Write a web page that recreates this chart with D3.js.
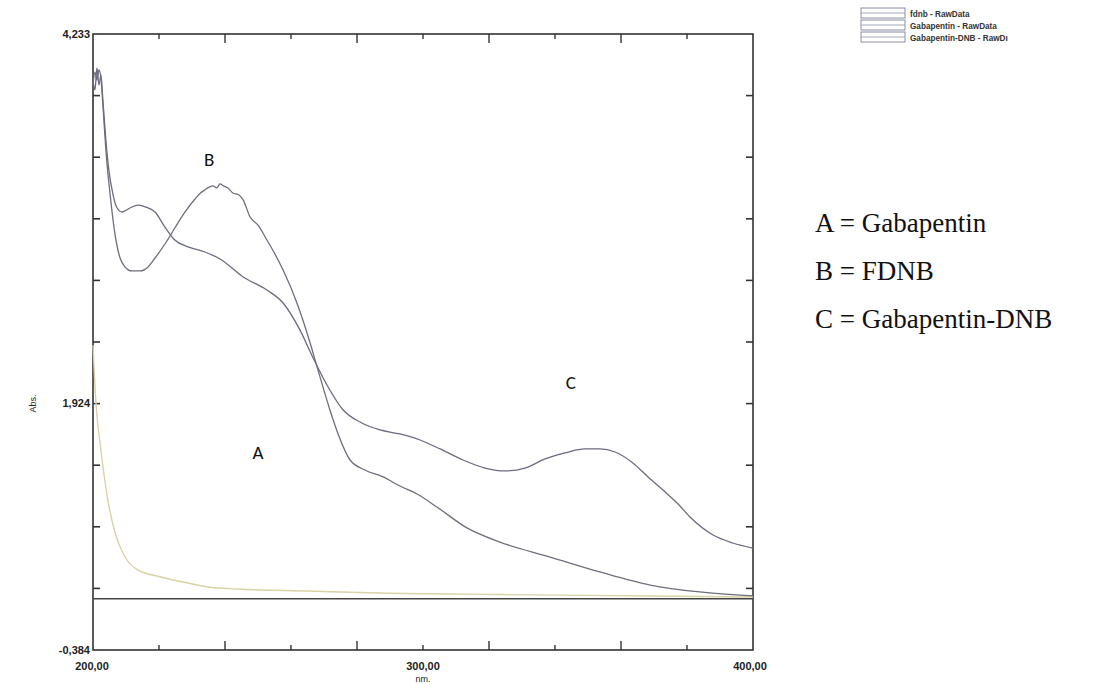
<!DOCTYPE html>
<html>
<head>
<meta charset="utf-8">
<script src="https://cdn.jsdelivr.net/npm/d3@7"></script>
<style>
  body { margin: 0; background: #fff; }
  svg { display: block; }
</style>
</head>
<body>
<div id="chart"></div>
<script>
// wavelength range (nm) and absorbance range as printed on the scan
var xDomain = [200, 400];
var yDomain = [-0.384, 4.233];

// x tick labels
var xTickLabels = [200, 300, 400];
// y tick labels, placed on the division where the scan prints them
var yTickText = ["-0,384", "1,924", "4,233"];
var yTickDiv = [0, 4, 10];

// FDNB (B)
var fdnbNm = [200.0, 200.6, 201.2, 201.8, 202.4, 203.0, 203.9, 205.2, 206.7, 208.2, 209.7, 211.8, 214.2, 216.7, 218.8, 221.8,
  224.8, 227.9, 230.9, 232.5, 233.9, 235.2, 236.4, 237.5, 238.5, 239.5, 240.9, 242.4, 244.0, 245.5, 247.6, 250.0, 252.7,
  255.0, 257.6, 261.8, 265.8, 267.9, 271.8, 274.5, 277.9, 282.4, 287.9, 293.0, 298.2, 304.2, 313.3, 323.3, 338.5, 353.6,
  368.8, 383.9, 400.0];
var fdnbAbs = [3.851, 3.948, 3.888, 3.963, 3.903, 3.701, 3.364, 3.026, 2.726, 2.554, 2.487, 2.457, 2.457, 2.487, 2.554, 2.659,
  2.779, 2.899, 2.996, 3.040, 3.064, 3.085, 3.094, 3.080, 3.109, 3.095, 3.079, 3.041, 3.030, 2.990, 2.861, 2.800, 2.689,
  2.590, 2.464, 2.217, 1.917, 1.738, 1.415, 1.220, 1.040, 0.965, 0.913, 0.845, 0.785, 0.688, 0.531, 0.425, 0.313, 0.201,
  0.103, 0.051, 0.021];

// Gabapentin (A)
var gabaNm = [200.0, 200.9, 202.4, 204.5, 206.7, 209.7, 213.6, 220.6, 228.8, 234.8, 243.9, 265.2, 287.0, 323.3, 368.8, 400.0];
var gabaAbs = [1.90, 1.467, 1.115, 0.740, 0.493, 0.313, 0.216, 0.163, 0.118, 0.088, 0.073, 0.058, 0.043, 0.032, 0.021, 0.013];

// Gabapentin-DNB (C)
var gdnbNm = [200.0, 200.6, 201.2, 201.8, 202.4, 203.0, 203.9, 204.8, 206.1, 207.3, 208.8, 211.2, 213.6, 216.1, 218.8, 221.8,
  224.8, 228.8, 233.9, 238.5, 245.5, 252.7, 257.6, 262.7, 266.7, 270.9, 275.8, 280.9, 287.0, 293.0, 299.1, 305.2, 312.1,
  318.8, 324.8, 330.9, 337.0, 343.0, 349.1, 353.6, 358.2, 363.6, 368.2, 372.7, 377.3, 380.9, 387.9, 393.9, 400.0];
var gdnbAbs = [3.888, 3.813, 3.978, 3.851, 3.926, 3.738, 3.438, 3.214, 3.026, 2.929, 2.899, 2.929, 2.951, 2.936, 2.899, 2.786,
  2.689, 2.637, 2.599, 2.547, 2.412, 2.314, 2.217, 2.015, 1.805, 1.602, 1.415, 1.325, 1.265, 1.235, 1.190, 1.123, 1.040,
  0.980, 0.958, 0.980, 1.048, 1.093, 1.123, 1.123, 1.100, 1.018, 0.913, 0.815, 0.710, 0.613, 0.478, 0.418, 0.380];

var legendNames = ["fdnb - RawData", "Gabapentin - RawData", "Gabapentin-DNB - RawDı"];
var noteLines = ["A = Gabapentin", "B = FDNB", "C = Gabapentin-DNB"];

var width = 1105, height = 684;
var margin = {top: 34, right: 352, bottom: 34, left: 93};

var svg = d3.select("#chart").append("svg")
    .attr("width", width)
    .attr("height", height);

var x = d3.scaleLinear().domain(xDomain).range([margin.left, width - margin.right]);
var y = d3.scaleLinear().domain(yDomain).range([height - margin.bottom, margin.top]);

//value of a y division (10 divisions across the frame)
function divValue(i) {
    return yDomain[0] + (yDomain[1] - yDomain[0]) * i / 10;
}

//frame
svg.append("rect")
    .attr("x", x(xDomain[0]))
    .attr("y", y(yDomain[1]))
    .attr("width", x(xDomain[1]) - x(xDomain[0]))
    .attr("height", y(yDomain[0]) - y(yDomain[1]))
    .attr("fill", "none")
    .attr("stroke", "#333")
    .attr("stroke-width", 1.6);

//x ticks, inward on top and bottom
var xTicks = d3.range(220, 400, 20);
xTicks.forEach(function(t) {
    var len = (t % 40 === 0) ? 9 : 5;
    svg.append("line")
        .attr("x1", x(t)).attr("x2", x(t))
        .attr("y1", y(yDomain[0])).attr("y2", y(yDomain[0]) - len)
        .attr("stroke", "#333").attr("stroke-width", 1.4);
    svg.append("line")
        .attr("x1", x(t)).attr("x2", x(t))
        .attr("y1", y(yDomain[1])).attr("y2", y(yDomain[1]) + len)
        .attr("stroke", "#333").attr("stroke-width", 1.4);
});

//y ticks, inward on left and right
d3.range(1, 10).forEach(function(i) {
    var v = divValue(i);
    svg.append("line")
        .attr("x1", x(xDomain[0])).attr("x2", x(xDomain[0]) + 7)
        .attr("y1", y(v)).attr("y2", y(v))
        .attr("stroke", "#333").attr("stroke-width", 1.6);
    svg.append("line")
        .attr("x1", x(xDomain[1])).attr("x2", x(xDomain[1]) - 7)
        .attr("y1", y(v)).attr("y2", y(v))
        .attr("stroke", "#333").attr("stroke-width", 1.6);
});

//zero line
svg.append("line")
    .attr("x1", x(xDomain[0])).attr("x2", x(xDomain[1]))
    .attr("y1", y(0)).attr("y2", y(0))
    .attr("stroke", "#444")
    .attr("stroke-width", 1.6);

//tick labels
var tickFont = "'Liberation Sans Narrow', 'Liberation Sans', Arial, sans-serif";
yTickText.forEach(function(t, i) {
    svg.append("text")
        .attr("x", x(xDomain[0]) - 3)
        .attr("y", y(divValue(yTickDiv[i])))
        .attr("dy", "0.35em")
        .attr("text-anchor", "end")
        .attr("font-family", tickFont)
        .attr("font-size", 11)
        .attr("font-weight", "bold")
        .attr("fill", "#222")
        .text(t);
});

xTickLabels.forEach(function(t) {
    svg.append("text")
        .attr("x", x(t) - (t === 200 ? 1 : (t === 400 ? 3 : 0)))
        .attr("y", y(yDomain[0]) + 20)
        .attr("text-anchor", "middle")
        .attr("font-family", tickFont)
        .attr("font-size", 11)
        .attr("font-weight", "bold")
        .attr("fill", "#222")
        .text(d3.format(".2f")(t).replace(".", ","));
});

svg.append("text")
    .attr("x", x(300))
    .attr("y", y(yDomain[0]) + 32)
    .attr("text-anchor", "middle")
    .attr("font-family", tickFont)
    .attr("font-size", 9)
    .attr("fill", "#222")
    .text("nm.");

svg.append("text")
    .attr("transform", "translate(36," + y(divValue(4)) + ") rotate(-90)")
    .attr("text-anchor", "middle")
    .attr("font-family", tickFont)
    .attr("font-size", 9)
    .attr("fill", "#222")
    .text("Abs.");

//spectra
var line = d3.line()
    .x(function(d) { return x(d[0]); })
    .y(function(d) { return y(d[1]); })
    .curve(d3.curveMonotoneX);

var series = [
    {nm: gabaNm, abs: gabaAbs, color: "#d9d2a6", width: 1.4},
    {nm: fdnbNm, abs: fdnbAbs, color: "#6e6e7c", width: 1.3},
    {nm: gdnbNm, abs: gdnbAbs, color: "#6a6c80", width: 1.3}
];

series.forEach(function(s) {
    svg.append("path")
        .datum(d3.zip(s.nm, s.abs))
        .attr("fill", "none")
        .attr("stroke", s.color)
        .attr("stroke-width", s.width)
        .attr("d", line);
});

//curve letters
var letterFont = "Carlito, 'Open Sans', 'Liberation Sans', sans-serif";
var letters = [
    {t: "B", nm: 235.2, a: 3.24},
    {t: "A", nm: 250, a: 1.05},
    {t: "C", nm: 344.8, a: 1.57}
];
letters.forEach(function(l) {
    svg.append("text")
        .attr("x", x(l.nm))
        .attr("y", y(l.a))
        .attr("text-anchor", "middle")
        .attr("font-family", letterFont)
        .attr("font-size", 19)
        .attr("fill", "#111")
        .text(l.t);
});

//legend
var legend = svg.append("g").attr("transform", "translate(861,8)");
legendNames.forEach(function(n, i) {
    var g = legend.append("g").attr("transform", "translate(0," + (i * 12) + ")");
    g.append("rect")
        .attr("x", 0).attr("y", 0)
        .attr("width", 44).attr("height", 10)
        .attr("fill", "#fff")
        .attr("stroke", "#7d829c")
        .attr("stroke-width", 0.9);
    g.append("line")
        .attr("x1", 0).attr("x2", 44)
        .attr("y1", 5).attr("y2", 5)
        .attr("stroke", "#9aa0b8")
        .attr("stroke-width", 0.9);
    g.append("text")
        .attr("x", 49)
        .attr("y", 8.5)
        .attr("font-family", tickFont)
        .attr("font-size", 8.2)
        .attr("font-weight", "bold")
        .attr("fill", "#333")
        .text(n);
});

//notes on the right
noteLines.forEach(function(n, i) {
    svg.append("text")
        .attr("x", 815)
        .attr("y", 232 + i * 48)
        .attr("font-family", "'Liberation Serif', 'Times New Roman', serif")
        .attr("font-size", 27)
        .attr("fill", "#111")
        .text(n);
});
</script>
</body>
</html>
